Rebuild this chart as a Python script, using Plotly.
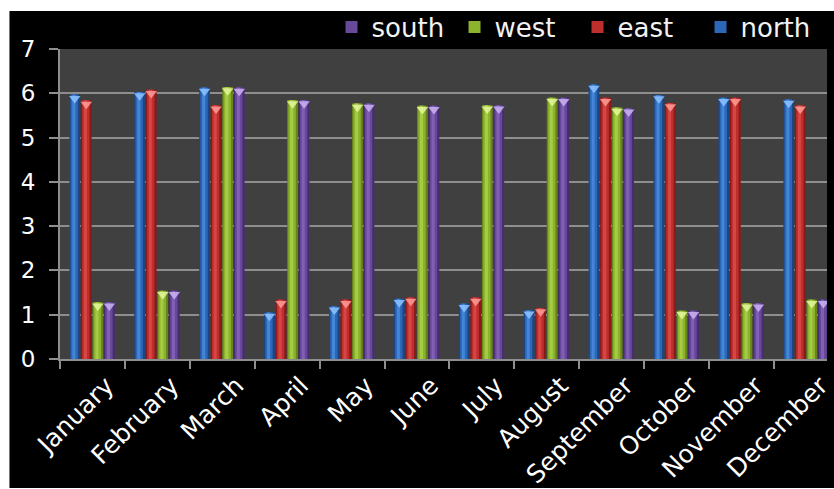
import plotly.graph_objects as go

# Monthly values per region
months = ["January", "February", "March", "April", "May", "June", "July",
          "August", "September", "October", "November", "December"]
north = [5.97, 6.03, 6.13, 1.05, 1.19, 1.36, 1.25, 1.10, 6.20, 5.96, 5.90, 5.86]
east = [5.84, 6.08, 5.73, 1.34, 1.34, 1.39, 1.39, 1.15, 5.90, 5.78, 5.90, 5.73]
west = [1.28, 1.54, 6.14, 5.85, 5.77, 5.72, 5.73, 5.90, 5.68, 1.09, 1.26, 1.34]
south = [1.28, 1.54, 6.13, 5.85, 5.77, 5.72, 5.73, 5.90, 5.66, 1.09, 1.26, 1.34]

# name, values, (edge, body, highlight, cap) colours
series = [
    ("north", north, ("#1c4584", "#2d67b8", "#4485d6", "#8ec3ff")),
    ("east", east, ("#8a1a1a", "#bd2f2d", "#d74644", "#ff9c98")),
    ("west", west, ("#66861a", "#8db22e", "#a6cc46", "#e4f79c")),
    ("south", south, ("#472c74", "#684899", "#8060b4", "#cbb4f2")),
]

SLOT = 0.178      # distance between neighbouring bars (category units)
BAR_W = 0.166     # bar width
GROUP_START = -0.356

x_idx = list(range(len(months)))
fig = go.Figure()

for k, (name, vals, (edge, body, hi, cap)) in enumerate(series):
    off = GROUP_START + k * SLOT
    # shaded cylinder look: dark edge, body, bright stripe
    fig.add_trace(go.Bar(x=x_idx, y=vals, width=BAR_W, offset=off,
                         marker=dict(color=edge, line=dict(width=0)),
                         showlegend=False, hoverinfo="skip"))
    fig.add_trace(go.Bar(x=x_idx, y=vals, width=BAR_W * 0.68, offset=off + BAR_W * 0.12,
                         marker=dict(color=body, line=dict(width=0)),
                         name=name, legendrank=10 - k))
    fig.add_trace(go.Bar(x=x_idx, y=vals, width=BAR_W * 0.28, offset=off + BAR_W * 0.28,
                         marker=dict(color=hi, line=dict(width=0)),
                         showlegend=False, hoverinfo="skip"))
    # bevelled top cap
    fig.add_trace(go.Scatter(x=[i + off + BAR_W / 2 for i in x_idx],
                             y=[v - 0.085 for v in vals],
                             mode="markers",
                             marker=dict(symbol="triangle-down", size=10, color=cap,
                                         line=dict(width=0), opacity=0.85),
                             showlegend=False, hoverinfo="skip"))

grid = "#8e8e8e"
font_family = "DejaVu Sans"

fig.update_layout(
    width=834, height=489,
    margin=dict(l=60, r=0, t=49, b=130),
    barmode="overlay",
    paper_bgcolor="black",
    plot_bgcolor="#404040",
    font=dict(family=font_family, color="white"),
    legend=dict(orientation="h", x=0.354, xanchor="left", y=1.071, yanchor="middle",
                font=dict(size=26, color="#f2f2f2"), bgcolor="rgba(0,0,0,0)",
                entrywidth=78, entrywidthmode="pixels"),
    xaxis=dict(range=[-0.5, 11.317], tickmode="array", tickvals=x_idx, ticktext=months,
               ticks="", tickangle=-45, tickfont=dict(size=25, color="white"),
               showgrid=False, zeroline=False,
               showline=True, linecolor=grid, linewidth=2,
               minor=dict(ticks="outside", tick0=-0.5, dtick=1, ticklen=8,
                          tickwidth=2, tickcolor=grid, showgrid=False),
               ticklabelshift=14, ticklabeloverflow="allow"),
    yaxis=dict(range=[0, 7], dtick=1, tick0=0, ticks="outside", ticklen=9, tickwidth=2,
               tickcolor=grid, tickfont=dict(size=23, color="white"),
               showgrid=True, gridcolor=grid, gridwidth=2, zeroline=False,
               showline=True, linecolor=grid, linewidth=2, ticklabelstandoff=9),
    shapes=[
        dict(type="rect", xref="paper", yref="paper", x0=-0.2, x1=1.1, y0=1.1226, y1=1.3,
             fillcolor="white", line=dict(width=0), layer="below"),
        dict(type="rect", xref="paper", yref="paper", x0=-0.2, x1=-0.0659, y0=-0.6, y1=1.3,
             fillcolor="white", line=dict(width=0), layer="below"),
        dict(type="rect", xref="paper", yref="paper", x0=-0.2, x1=1.1, y0=-0.6, y1=-0.416,
             fillcolor="white", line=dict(width=0), layer="below"),
    ],
)

fig.write_html("out.html")
